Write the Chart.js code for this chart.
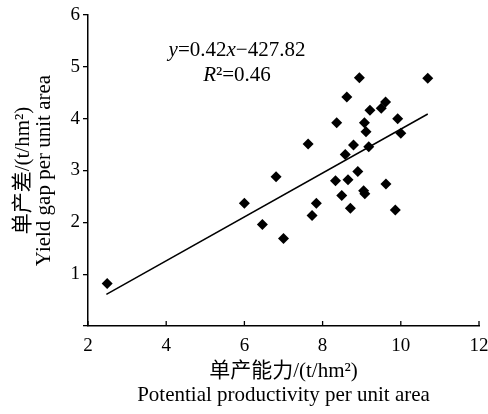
<!DOCTYPE html>
<html>
<head>
<meta charset="utf-8">
<script src="https://cdn.jsdelivr.net/npm/chart.js@4.4.1/dist/chart.umd.min.js"></script>
<style>
  html, body { margin: 0; padding: 0; background: #fff; }
  #wrap { width: 488px; height: 414px; }
</style>
</head>
<body>
<div id="wrap"><canvas id="scatter" width="488" height="414"></canvas></div>
<script>
// potential productivity (t/hm2) vs yield gap (t/hm2)
var potential = [8.94, 10.69, 8.62, 9.61, 9.50, 9.21, 9.92, 8.36, 9.07, 9.11, 10.00, 7.63, 8.79, 9.18, 8.58, 6.81,
                 8.90, 8.33, 8.65, 9.62, 9.05, 9.08, 8.49, 6.00, 7.84, 7.73, 8.71, 9.86, 6.46, 7.00, 2.49];
var yieldGap = [4.79, 4.78, 4.42, 4.32, 4.20, 4.16, 4.00, 3.92, 3.92, 3.75, 3.72, 3.51, 3.49, 3.46, 3.31, 2.88,
                2.98, 2.80, 2.82, 2.74, 2.61, 2.55, 2.52, 2.37, 2.37, 2.13, 2.27, 2.24, 1.96, 1.69, 0.82];

// fitted line end points
var trendX = [2.47, 10.69];
var trendY = [0.61, 4.09];

var xTicks = [2, 4, 6, 8, 10, 12];
var yTicks = [0, 1, 2, 3, 4, 5, 6];

var xTitle = ['单产能力/(t/hm²)', 'Potential productivity per unit area'];
var yTitle = ['单产差/(t/hm²)', 'Yield gap per unit area'];
var eqLine1 = [{t: 'y', i: true}, {t: '=0.42'}, {t: 'x', i: true}, {t: '−427.82'}];
var eqLine2 = [{t: 'R', i: true}, {t: '²'}, {t: '=0.46'}];

var FAMILY = "'Liberation Serif', 'Noto Sans CJK SC', serif";

function toPoints(xs, ys) {
    var pts = [];
    for (var i = 0; i < xs.length; i++) {
        pts.push({x: xs[i], y: ys[i]});
    }
    return pts;
}

// draw a run of text pieces (some italic) centred on cx
function drawRuns(ctx, runs, cx, cy, size) {
    var total = 0;
    for (var i = 0; i < runs.length; i++) {
        ctx.font = (runs[i].i ? 'italic ' : '') + size + 'px ' + FAMILY;
        total += ctx.measureText(runs[i].t).width;
    }
    var x = cx - total / 2;
    for (var j = 0; j < runs.length; j++) {
        ctx.font = (runs[j].i ? 'italic ' : '') + size + 'px ' + FAMILY;
        ctx.fillText(runs[j].t, x, cy);
        x += ctx.measureText(runs[j].t).width;
    }
}

var extras = {
    id: 'extras',
    afterDraw: function (chart) {
        var ctx = chart.ctx;
        var xs = chart.scales.x;
        var bottom = chart.chartArea.bottom;
        ctx.save();
        // x tick marks point inward
        ctx.strokeStyle = '#000';
        ctx.lineWidth = 1.3;
        for (var i = 0; i < xTicks.length; i++) {
            var px = xs.getPixelForValue(xTicks[i]);
            ctx.beginPath();
            ctx.moveTo(px, bottom);
            ctx.lineTo(px, bottom - 5);
            ctx.stroke();
        }
        // regression equation
        ctx.fillStyle = '#000';
        ctx.textBaseline = 'middle';
        ctx.textAlign = 'left';
        drawRuns(ctx, eqLine1, 237, 50, 21);
        drawRuns(ctx, eqLine2, 237, 75, 21);
        ctx.restore();
    }
};

var ctx = document.getElementById('scatter').getContext('2d');
var chart = new Chart(ctx, {
    type: 'scatter',
    data: {
        datasets: [
            {
                label: 'points',
                data: toPoints(potential, yieldGap),
                pointStyle: 'rectRot',
                pointRadius: 5.5,
                backgroundColor: '#000',
                borderColor: '#000',
                borderWidth: 0
            },
            {
                label: 'fit',
                data: toPoints(trendX, trendY),
                showLine: true,
                pointRadius: 0,
                borderColor: '#000',
                borderWidth: 1.5
            }
        ]
    },
    options: {
        responsive: false,
        animation: false,
        layout: {padding: {top: 15, right: 9, left: 0, bottom: 0}},
        plugins: {
            legend: {display: false},
            tooltip: {enabled: false}
        },
        scales: {
            x: {
                type: 'linear',
                min: 2,
                max: 12,
                afterFit: function (scale) {
                    scale.height = 88;
                    scale.paddingLeft = 0;
                    scale.paddingRight = 0;
                },
                afterBuildTicks: function (scale) {
                    scale.ticks = xTicks.map(function (v) { return {value: v}; });
                },
                grid: {display: false, drawTicks: false},
                border: {display: true, color: '#000', width: 1.5},
                ticks: {
                    color: '#000',
                    padding: 9,
                    maxRotation: 0,
                    font: {family: FAMILY, size: 19}
                },
                title: {
                    display: true,
                    text: xTitle,
                    color: '#000',
                    padding: {top: 0, bottom: 6},
                    font: {family: FAMILY, size: 21, lineHeight: 1.15}
                }
            },
            y: {
                type: 'linear',
                min: 0,
                max: 6,
                afterFit: function (scale) {
                    scale.width = 88;
                    scale.paddingTop = 0;
                    scale.paddingBottom = 0;
                },
                afterBuildTicks: function (scale) {
                    scale.ticks = yTicks.map(function (v) { return {value: v}; });
                },
                grid: {
                    display: true,
                    drawOnChartArea: false,
                    drawTicks: true,
                    tickLength: 5,
                    color: '#000',
                    lineWidth: 1.3
                },
                border: {display: true, color: '#000', width: 1.5},
                ticks: {
                    color: '#000',
                    padding: 3,
                    font: {family: FAMILY, size: 19},
                    callback: function (v) { return v === 0 ? '' : v; }
                },
                title: {
                    display: true,
                    text: yTitle,
                    color: '#000',
                    padding: {top: 13, bottom: 0},
                    font: {family: FAMILY, size: 21, lineHeight: 1.0}
                }
            }
        }
    },
    plugins: [extras]
});
</script>
</body>
</html>
